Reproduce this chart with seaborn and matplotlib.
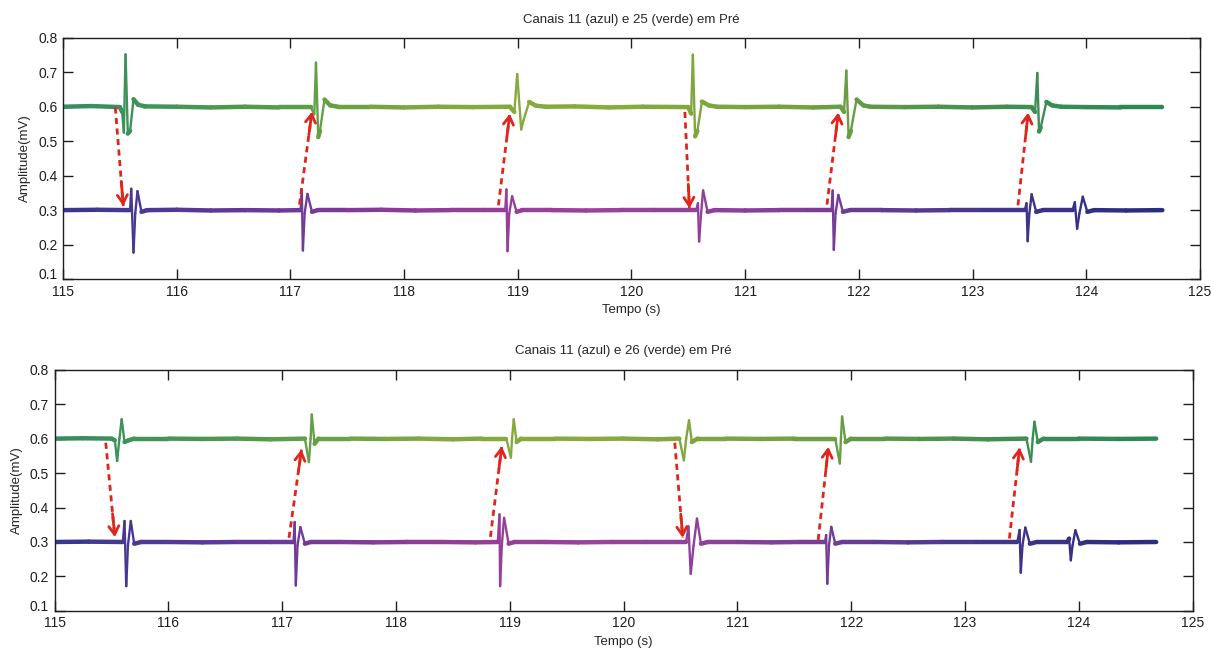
import matplotlib
matplotlib.use("Agg")
import pandas as pd
import matplotlib.pyplot as plt
from matplotlib.colors import LinearSegmentedColormap
import seaborn as sns

# Eixos e textos
x_ticks = [115, 116, 117, 118, 119, 120, 121, 122, 123, 124, 125]
y_ticks = [0.1, 0.2, 0.3, 0.4, 0.5, 0.6, 0.7, 0.8]
titulos = ["Canais 11 (azul) e 25 (verde) em Pré", "Canais 11 (azul) e 26 (verde) em Pré"]

# Sinais: (tempo em s, amplitude em mV)
canal25 = [(115.00, 0.600), (115.25, 0.602), (115.50, 0.599), (115.52, 0.585), (115.535, 0.525),
           (115.55, 0.752), (115.57, 0.522), (115.59, 0.530), (115.62, 0.622), (115.66, 0.606),
           (115.72, 0.601), (116.00, 0.600), (116.30, 0.598), (116.60, 0.600), (116.90, 0.598),
           (117.18, 0.598), (117.21, 0.578), (117.225, 0.728), (117.245, 0.512), (117.26, 0.530),
           (117.30, 0.621), (117.35, 0.604), (117.42, 0.600), (117.70, 0.600), (118.00, 0.598),
           (118.30, 0.600), (118.60, 0.599), (118.93, 0.600), (118.97, 0.585), (118.995, 0.695),
           (119.03, 0.534), (119.05, 0.560), (119.10, 0.614), (119.16, 0.603), (119.25, 0.600),
           (119.50, 0.601), (119.80, 0.598), (120.10, 0.600), (120.50, 0.599), (120.525, 0.580),
           (120.54, 0.751), (120.56, 0.514), (120.58, 0.530), (120.62, 0.615), (120.68, 0.604),
           (120.75, 0.600), (121.00, 0.599), (121.30, 0.600), (121.60, 0.598), (121.84, 0.600),
           (121.87, 0.585), (121.89, 0.705), (121.91, 0.512), (121.93, 0.530), (121.98, 0.621),
           (122.04, 0.604), (122.10, 0.600), (122.40, 0.599), (122.70, 0.600), (123.00, 0.598),
           (123.30, 0.600), (123.52, 0.599), (123.55, 0.585), (123.57, 0.698), (123.585, 0.528),
           (123.60, 0.540), (123.65, 0.614), (123.70, 0.604), (123.78, 0.600), (124.00, 0.599),
           (124.30, 0.598), (124.67, 0.598)]

canal11_a = [(115.00, 0.300), (115.30, 0.301), (115.59, 0.300), (115.60, 0.362), (115.62, 0.177),
             (115.635, 0.290), (115.655, 0.355), (115.69, 0.295), (115.74, 0.300), (116.00, 0.301),
             (116.30, 0.299), (116.60, 0.300), (116.90, 0.299), (117.09, 0.300), (117.10, 0.361),
             (117.11, 0.183), (117.125, 0.290), (117.15, 0.347), (117.19, 0.295), (117.24, 0.300),
             (117.50, 0.300), (117.80, 0.301), (118.10, 0.299), (118.40, 0.300), (118.70, 0.300),
             (118.89, 0.300), (118.90, 0.360), (118.91, 0.181), (118.925, 0.290), (118.95, 0.340),
             (118.99, 0.295), (119.04, 0.300), (119.30, 0.300), (119.60, 0.299), (119.90, 0.300),
             (120.20, 0.300), (120.57, 0.300), (120.585, 0.320), (120.595, 0.209), (120.61, 0.280),
             (120.63, 0.357), (120.67, 0.295), (120.73, 0.300), (121.00, 0.299), (121.30, 0.300),
             (121.55, 0.300), (121.76, 0.300), (121.77, 0.357), (121.78, 0.185), (121.795, 0.290),
             (121.82, 0.344), (121.86, 0.295), (121.92, 0.300), (122.20, 0.300), (122.50, 0.299),
             (122.80, 0.300), (123.10, 0.300), (123.46, 0.300), (123.475, 0.320), (123.485, 0.210),
             (123.50, 0.290), (123.52, 0.346), (123.56, 0.295), (123.62, 0.300), (123.88, 0.300),
             (123.90, 0.323), (123.92, 0.246), (123.94, 0.290), (123.97, 0.339), (124.01, 0.295),
             (124.07, 0.300), (124.35, 0.299), (124.67, 0.300)]

canal26 = [(115.00, 0.600), (115.25, 0.601), (115.50, 0.600), (115.53, 0.595), (115.55, 0.535),
           (115.57, 0.600), (115.59, 0.656), (115.615, 0.590), (115.65, 0.595), (115.70, 0.600),
           (116.00, 0.600), (116.30, 0.599), (116.60, 0.600), (116.90, 0.598), (117.20, 0.600),
           (117.235, 0.532), (117.25, 0.600), (117.26, 0.670), (117.285, 0.585), (117.32, 0.600),
           (117.60, 0.600), (117.90, 0.599), (118.20, 0.600), (118.50, 0.598), (118.75, 0.600),
           (118.97, 0.600), (119.01, 0.545), (119.02, 0.600), (119.035, 0.656), (119.06, 0.590),
           (119.10, 0.600), (119.40, 0.600), (119.70, 0.599), (120.00, 0.600), (120.30, 0.598),
           (120.49, 0.600), (120.53, 0.537), (120.55, 0.600), (120.575, 0.653), (120.60, 0.590),
           (120.65, 0.600), (120.90, 0.600), (121.20, 0.599), (121.50, 0.600), (121.86, 0.600),
           (121.90, 0.528), (121.91, 0.600), (121.92, 0.664), (121.95, 0.590), (122.00, 0.600),
           (122.30, 0.600), (122.60, 0.599), (122.90, 0.600), (123.20, 0.598), (123.54, 0.600),
           (123.58, 0.533), (123.595, 0.600), (123.61, 0.649), (123.64, 0.590), (123.69, 0.600),
           (124.00, 0.600), (124.35, 0.599), (124.68, 0.600)]

canal11_b = [(115.00, 0.300), (115.30, 0.301), (115.60, 0.300), (115.615, 0.361), (115.63, 0.172),
             (115.645, 0.290), (115.67, 0.361), (115.70, 0.295), (115.76, 0.300), (116.00, 0.300),
             (116.30, 0.299), (116.60, 0.300), (116.90, 0.300), (117.10, 0.300), (117.11, 0.358),
             (117.12, 0.174), (117.135, 0.290), (117.16, 0.343), (117.20, 0.295), (117.25, 0.300),
             (117.50, 0.300), (117.80, 0.299), (118.10, 0.300), (118.40, 0.300), (118.70, 0.299),
             (118.895, 0.300), (118.91, 0.380), (118.915, 0.172), (118.93, 0.290), (118.95, 0.370),
             (118.99, 0.295), (119.04, 0.300), (119.30, 0.300), (119.60, 0.299), (119.90, 0.300),
             (120.20, 0.300), (120.55, 0.300), (120.57, 0.345), (120.59, 0.208), (120.615, 0.290),
             (120.645, 0.368), (120.68, 0.295), (120.74, 0.300), (121.00, 0.300), (121.30, 0.299),
             (121.55, 0.300), (121.77, 0.300), (121.78, 0.320), (121.79, 0.179), (121.805, 0.290),
             (121.825, 0.344), (121.86, 0.295), (121.92, 0.300), (122.20, 0.300), (122.50, 0.299),
             (122.80, 0.300), (123.10, 0.300), (123.46, 0.300), (123.48, 0.335), (123.49, 0.211),
             (123.505, 0.290), (123.53, 0.342), (123.57, 0.295), (123.63, 0.300), (123.90, 0.300),
             (123.915, 0.310), (123.93, 0.247), (123.945, 0.290), (123.97, 0.334), (124.01, 0.295),
             (124.07, 0.300), (124.35, 0.299), (124.68, 0.300)]

# Setas vermelhas: (inicio, fim)
setas_a = [((115.46, 0.598), (115.53, 0.312)), ((117.08, 0.316), (117.19, 0.586)),
           ((118.83, 0.314), (118.93, 0.580)), ((120.47, 0.585), (120.51, 0.305)),
           ((121.72, 0.316), (121.82, 0.583)), ((123.40, 0.314), (123.49, 0.583))]
setas_b = [((115.45, 0.588), (115.53, 0.314)), ((117.06, 0.312), (117.17, 0.568)),
           ((118.83, 0.315), (118.93, 0.578)), ((120.45, 0.588), (120.52, 0.312)),
           ((121.71, 0.306), (121.80, 0.576)), ((123.39, 0.310), (123.48, 0.574))]

sns.set_theme(style="ticks")
plt.rcParams["font.family"] = ["Liberation Sans", "DejaVu Sans"]

verde = LinearSegmentedColormap.from_list(
    "verde", ["#348c62", "#4f9a4c", "#82a83e", "#8aaa3c", "#74a240", "#459050", "#2a8658"])
azul = LinearSegmentedColormap.from_list(
    "azul", ["#37378f", "#64399a", "#933b98", "#9c429c", "#803e98", "#45378e", "#2a2c7e"])
vermelho = "#e0261c"


def segmentos(pontos):
    # each pair of consecutive points is its own short line, so it gets its own colour/width
    rows = []
    for i in range(len(pontos) - 1):
        (t0, v0), (t1, v1) = pontos[i], pontos[i + 1]
        meio = (t0 + t1) / 2
        tipo = "base" if abs(v1 - v0) < 0.02 else "pico"
        rows.append([i, t0, v0, meio, tipo])
        rows.append([i, t1, v1, meio, tipo])
    return pd.DataFrame(rows, columns=["seg", "t", "v", "cor", "tipo"])


def desenha(ax, verde_pts, azul_pts, setas, titulo):
    for pts, cmap in [(verde_pts, verde), (azul_pts, azul)]:
        sns.lineplot(data=segmentos(pts), x="t", y="v", units="seg", estimator=None,
                     hue="cor", palette=cmap, hue_norm=(115, 124.7),
                     size="tipo", sizes={"base": 3.2, "pico": 1.7}, legend=False,
                     sort=False, solid_capstyle="round", ax=ax)

    for (x0, y0), (x1, y1) in setas:
        ax.plot([x0, x1], [y0, y1], color=vermelho, lw=2, linestyle=(0, (2.2, 1.6)))
        ax.annotate("", xy=(x1, y1), xytext=(x0 + 0.75 * (x1 - x0), y0 + 0.75 * (y1 - y0)),
                    arrowprops=dict(arrowstyle="->,head_length=0.5,head_width=0.3",
                                    color=vermelho, lw=2, shrinkA=0, shrinkB=0))

    ax.set_xlim(115, 125)
    ax.set_ylim(0.1, 0.8)
    ax.set_xticks(x_ticks)
    ax.set_xticklabels([str(x) for x in x_ticks])
    ax.set_yticks(y_ticks)
    ax.set_yticklabels(["%.1f" % y for y in y_ticks])
    ax.get_yticklabels()[0].set_verticalalignment("baseline")
    ax.tick_params(direction="in", top=True, right=True, length=7, width=1,
                   labelsize=10, pad=4, colors="#1e1e1e")
    for s in ax.spines.values():
        s.set_color("#1e1e1e")
        s.set_linewidth(1)
    ax.set_title(titulo, fontsize=9.5, pad=11)
    ax.set_xlabel("Tempo (s)", fontsize=9.5, labelpad=4)
    ax.set_ylabel("Amplitude(mV)", fontsize=9.5, labelpad=5)


fig = plt.figure(figsize=(12.12, 6.52), dpi=100)
ax1 = fig.add_axes([0.052, 0.572, 0.938, 0.370])
ax2 = fig.add_axes([0.045, 0.063, 0.939, 0.370])

desenha(ax1, canal25, canal11_a, setas_a, titulos[0])
desenha(ax2, canal26, canal11_b, setas_b, titulos[1])

fig.savefig("out.png", dpi=100, facecolor="white")
